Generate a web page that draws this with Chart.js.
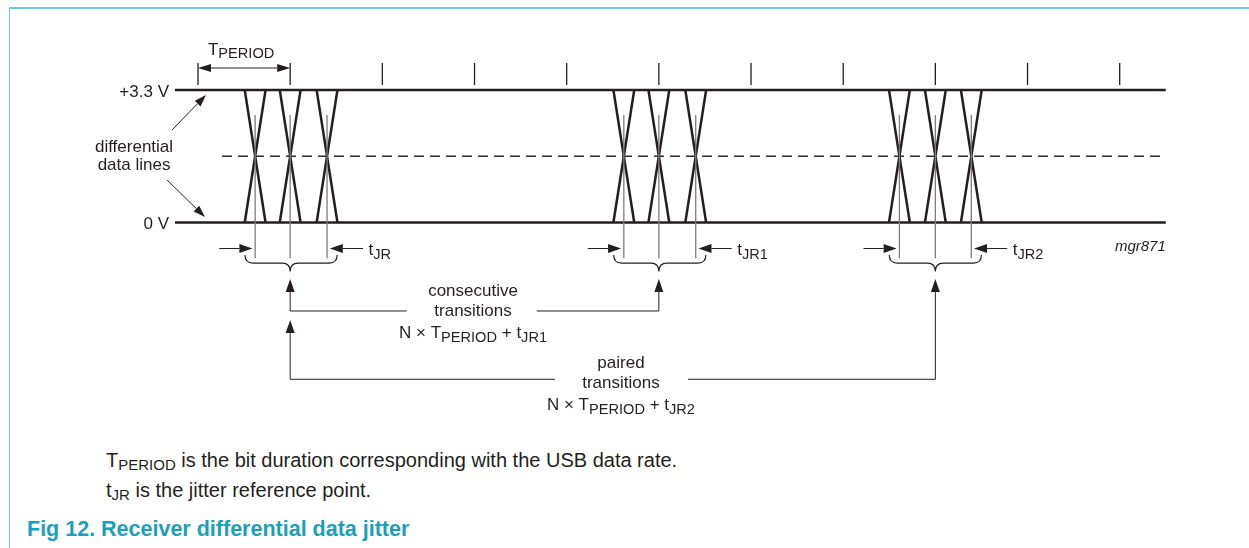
<!DOCTYPE html>
<html>
<head>
<meta charset="utf-8">
<script src="https://cdn.jsdelivr.net/npm/chart.js@4.4.1/dist/chart.umd.min.js"></script>
<style>
  html, body { margin: 0; padding: 0; background: #fff; }
  body { width: 1249px; height: 548px; position: relative; overflow: hidden; font-family: "Liberation Sans", Arial, sans-serif; color: #231f20; }
  #frame { position: absolute; left: 9px; top: 7px; right: 0; bottom: 0; border-top: 2px solid #6ccbd7; border-left: 1px solid #6ccbd7; }
  #wrap { position: absolute; left: 0; top: 0; width: 1249px; height: 440px; }
  .note { position: absolute; left: 106px; font-size: 20px; line-height: 20px; white-space: nowrap; }
  .note .sub { font-size: 15px; position: relative; top: 3px; }
  #title { position: absolute; left: 27px; top: 518px; font-size: 21.5px; line-height: 22px; font-weight: bold; color: #1ba0b9; white-space: nowrap; }
</style>
</head>
<body>
<div id="frame"></div>
<div id="wrap"><canvas id="grafico" width="1249" height="440"></canvas></div>
<div class="note" style="top:450px">T<span class="sub">PERIOD</span> is the bit duration corresponding with the USB data rate.</div>
<div class="note" style="top:480px">t<span class="sub">JR</span> is the jitter reference point.</div>
<div id="title">Fig 12. Receiver differential data jitter</div>

<script>
// eixo x em periodos de bit (T), eixo y em volts
const periodTicks = [0, 1, 2, 3, 4, 5, 6, 7, 8, 9, 10];
const crossings = [
    [0.62, 1.00, 1.40],
    [4.62, 5.00, 5.40],
    [7.61, 8.00, 8.39]
];
const jitterLabels = ['JR', 'JR1', 'JR2'];
const vHigh = 3.3;
const vLow = 0;
const vRef = 1.65;
const edgeHalf = 0.113;   // meia largura da transicao
const railStart = -0.25, railEnd = 10.5;

// mapeamento das escalas para ocupar o canvas
const PX_T = 92.17, PX_V = 40.15;
const xMin = -198 / PX_T, xMax = xMin + 1249 / PX_T;
const yMax = 222.5 / PX_V, yMin = yMax - 440 / PX_V;

const INK = '#231f20';
const FONT = '"Liberation Sans", Arial, sans-serif';

function segmentos(lista) {
    const out = [];
    lista.forEach(([a, b]) => {
        out.push(a, b, { x: b.x, y: null });
    });
    return out;
}

const railData = segmentos([
    [{ x: railStart, y: vHigh }, { x: railEnd, y: vHigh }],
    [{ x: railStart, y: vLow }, { x: railEnd, y: vLow }]
]);

const edgePairs = [];
crossings.forEach(g => g.forEach(c => {
    edgePairs.push([{ x: c - edgeHalf, y: vHigh }, { x: c + edgeHalf, y: vLow }]);
    edgePairs.push([{ x: c - edgeHalf, y: vLow }, { x: c + edgeHalf, y: vHigh }]);
}));

const refPairs = [];
crossings.forEach(g => g.forEach(c => {
    refPairs.push([{ x: c, y: 2.675 }, { x: c, y: -0.89 }]);
}));

const tickPairs = periodTicks.map(t => [{ x: t, y: 3.973 }, { x: t, y: 3.425 }]);

function linha(data, cor, largura, extra) {
    return Object.assign({
        data: data,
        showLine: true,
        borderColor: cor,
        borderWidth: largura,
        pointRadius: 0,
        spanGaps: false,
        fill: false
    }, extra || {});
}

// ---- desenho das anotacoes ----
function seta(ctx, x1, y1, x2, y2, comp, meia) {
    const ang = Math.atan2(y2 - y1, x2 - x1);
    const bx = x2 - comp * Math.cos(ang), by = y2 - comp * Math.sin(ang);
    ctx.beginPath();
    ctx.moveTo(x1, y1);
    ctx.lineTo(bx, by);
    ctx.stroke();
    ctx.beginPath();
    ctx.moveTo(x2, y2);
    ctx.lineTo(bx + meia * Math.sin(ang), by - meia * Math.cos(ang));
    ctx.lineTo(bx - meia * Math.sin(ang), by + meia * Math.cos(ang));
    ctx.closePath();
    ctx.fill();
}

function textoSub(ctx, partes, x, y, align, tam, tamSub) {
    let total = 0;
    partes.forEach(([txt, sub]) => {
        ctx.font = (sub ? tamSub : tam) + 'px ' + FONT;
        total += ctx.measureText(txt).width;
    });
    let cx = align === 'center' ? x - total / 2 : (align === 'right' ? x - total : x);
    ctx.textAlign = 'left';
    partes.forEach(([txt, sub]) => {
        ctx.font = (sub ? tamSub : tam) + 'px ' + FONT;
        ctx.fillText(txt, cx, sub ? y + 3.5 : y);
        cx += ctx.measureText(txt).width;
    });
}

function chave(ctx, xl, xr, xc, yTop, yMid, yTip) {
    const r = 8;
    ctx.beginPath();
    ctx.moveTo(xl, yTop);
    ctx.quadraticCurveTo(xl, yMid, xl + r, yMid);
    ctx.lineTo(xc - r, yMid);
    ctx.quadraticCurveTo(xc, yMid, xc, yTip);
    ctx.quadraticCurveTo(xc, yMid, xc + r, yMid);
    ctx.lineTo(xr - r, yMid);
    ctx.quadraticCurveTo(xr, yMid, xr, yTop);
    ctx.stroke();
}

const anotacoes = {
    id: 'anotacoes',
    afterDatasetsDraw(chart) {
        const ctx = chart.ctx;
        const px = v => chart.scales.x.getPixelForValue(v);
        const py = v => chart.scales.y.getPixelForValue(v);
        ctx.save();
        ctx.strokeStyle = INK;
        ctx.fillStyle = INK;
        ctx.lineWidth = 1;
        ctx.textBaseline = 'alphabetic';

        // T_PERIOD
        seta(ctx, px(0.5), py(3.848), px(0), py(3.848), 13, 4);
        seta(ctx, px(0.5), py(3.848), px(1), py(3.848), 13, 4);
        textoSub(ctx, [['T', false], ['PERIOD', true]], px(0.108), py(4.172), 'left', 17, 14.6);

        // rotulos de tensao
        ctx.font = '17px ' + FONT;
        ctx.textAlign = 'right';
        ctx.fillText('+3.3 V', px(-0.315), py(vHigh) + 6.5);
        ctx.fillText('0 V', px(-0.315), py(vLow) + 6.5);
        ctx.textAlign = 'center';
        ctx.fillText('differential', px(-0.694), py(1.76));
        ctx.fillText('data lines', px(-0.694), py(1.30));
        seta(ctx, px(-0.282), py(2.304), px(0.087), py(3.176), 12, 4);
        seta(ctx, px(-0.336), py(1.059), px(0.076), py(0.137), 12, 4);

        // marcadores de jitter e chaves
        crossings.forEach((g, i) => {
            const c0 = g[0], c1 = g[1], c2 = g[2];
            const ya = py(-0.648);
            seta(ctx, px(c0 - 0.39), ya, px(c0 - 0.03), ya, 13, 4.5);
            seta(ctx, px(c2 + 0.39), ya, px(c2 + 0.03), ya, 13, 4.5);
            textoSub(ctx, [['t', false], [jitterLabels[i], true]], px(c2 + 0.45), py(-0.81), 'left', 17, 14.6);
            ctx.lineWidth = 1.2;
            chave(ctx, px(c0 - 0.11), px(c2 + 0.11), px(c1), py(-0.81), py(-1.01), py(-1.22));
            ctx.lineWidth = 1;
        });

        // transicoes consecutivas
        const yc = py(-2.204);
        const a1 = px(crossings[0][1]), a2 = px(crossings[1][1]), a3 = px(crossings[2][1]);
        ctx.beginPath();
        ctx.moveTo(a1, yc); ctx.lineTo(px(2.264), yc);
        ctx.moveTo(px(3.675), yc); ctx.lineTo(a2, yc);
        ctx.stroke();
        seta(ctx, a1, yc, a1, py(-1.407), 13, 4.5);
        seta(ctx, a2, yc, a2, py(-1.407), 13, 4.5);
        ctx.font = '17px ' + FONT;
        ctx.textAlign = 'center';
        ctx.fillText('consecutive', px(2.984), py(-1.831));
        ctx.fillText('transitions', px(2.984), py(-2.341));
        textoSub(ctx, [['N \u00d7 T', false], ['PERIOD', true], [' + t', false], ['JR1', true]], px(2.984), py(-2.877), 'center', 17, 14.6);

        // transicoes pareadas
        const yp = py(-3.905);
        ctx.beginPath();
        ctx.moveTo(a1, yp); ctx.lineTo(px(3.873), yp);
        ctx.moveTo(px(5.316), yp); ctx.lineTo(a3, yp);
        ctx.stroke();
        seta(ctx, a1, yp, a1, py(-2.43), 13, 4.5);
        seta(ctx, a3, yp, a3, py(-1.407), 13, 4.5);
        ctx.font = '17px ' + FONT;
        ctx.textAlign = 'center';
        ctx.fillText('paired', px(4.589), py(-3.624));
        ctx.fillText('transitions', px(4.589), py(-4.134));
        textoSub(ctx, [['N \u00d7 T', false], ['PERIOD', true], [' + t', false], ['JR2', true]], px(4.589), py(-4.670), 'center', 17, 14.6);

        // codigo da figura
        ctx.font = 'italic 15px ' + FONT;
        ctx.textAlign = 'right';
        ctx.fillText('mgr871', px(10.50), py(-0.71));
        ctx.restore();
    }
};

new Chart(document.getElementById('grafico').getContext('2d'), {
    type: 'scatter',
    data: {
        datasets: [
            linha(segmentos(tickPairs), INK, 1.3),
            linha(segmentos(refPairs), '#7d7d7d', 1.3),
            linha([{ x: 0.26, y: vRef }, { x: 10.44, y: vRef }], '#2a2a2a', 1.4, { borderDash: [10, 6] }),
            linha(railData, INK, 2.6),
            linha(segmentos(edgePairs), INK, 2.5)
        ]
    },
    options: {
        responsive: false,
        animation: false,
        events: [],
        layout: { padding: 0 },
        plugins: { legend: { display: false }, tooltip: { enabled: false } },
        scales: {
            x: { type: 'linear', min: xMin, max: xMax, display: false },
            y: { type: 'linear', min: yMin, max: yMax, display: false }
        }
    },
    plugins: [anotacoes]
});
</script>
</body>
</html>
